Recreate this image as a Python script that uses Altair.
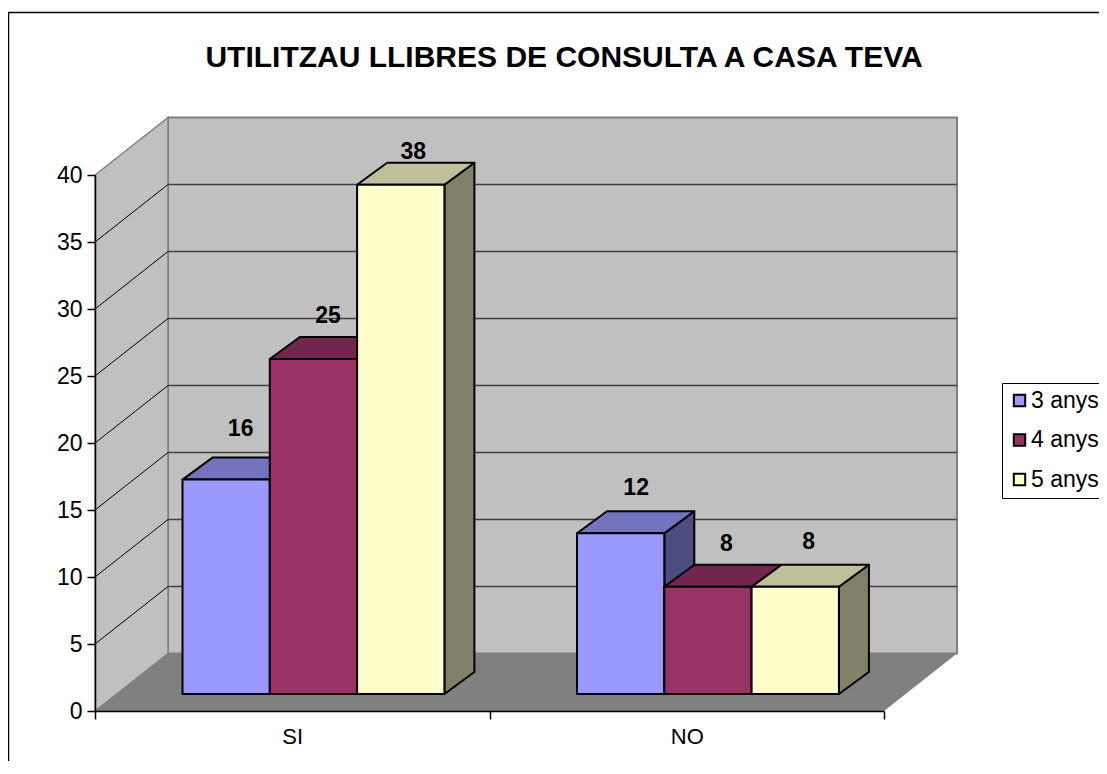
import altair as alt
import pandas as pd

# ---- data ----
categories = ["SI", "NO"]
series = ["3 anys", "4 anys", "5 anys"]
values_3 = [16, 12]
values_4 = [25, 8]
values_5 = [38, 8]
colors_front = ["#9999FF", "#993366", "#FFFFCC"]
colors_top = ["#7373BF", "#73264D", "#BFBF99"]
colors_side = ["#4D4D80", "#4D1A33", "#808066"]
y_ticks = [0, 5, 10, 15, 20, 25, 30, 35, 40]

# label nudges in pixels (bar order: SI 3,4,5 then NO 3,4,5)
label_dx = [[14.5, 14.5, 12.5], [15.5, 18.5, 13.5]]
label_dy = [[-51, -43, -33], [-45, -43, -45]]

# ---- layout ----
FONT = "Liberation Sans"
PX_X = 394.5   # pixels per category
PX_Y = 13.4    # pixels per value unit
WALL_DX = 73 / PX_X
WALL_DY = 57.5 / PX_Y
BAR_X0 = 87.5 / PX_X
BAR_W = 87.3 / PX_X
BAR_BASE = 17 / PX_Y
BAR_DX = 30 / PX_X
BAR_DY = 22 / PX_Y

x_scale = alt.Scale(domain=[0, 2], nice=False, zero=False)
y_scale = alt.Scale(domain=[0, 40], nice=False, zero=False)
X = lambda f="x": alt.X(f"{f}:Q", scale=x_scale, title=None)
Y = lambda f="y": alt.Y(f"{f}:Q", scale=y_scale, title=None)
color_enc = alt.Color(
    "serie:N",
    scale=alt.Scale(domain=series, range=colors_front),
    legend=alt.Legend(
        title=None, orient="none", legendX=907, legendY=208,
        strokeColor="#000000", fillColor="#FFFFFF", padding=6,
        symbolType="square", symbolSize=130, symbolStrokeColor="#000000",
        symbolStrokeWidth=2, labelFont=FONT, labelFontSize=23, labelColor="#000000",
        rowPadding=15.5, labelOffset=0, labelLimit=200, symbolOpacity=1,
    ),
)


def side_poly(xs, ys, y2s, color, **kw):
    df = pd.DataFrame({"x": xs, "y": ys, "y2": y2s})
    return alt.Chart(df).mark_area(fill=color, interpolate="linear", **kw).encode(
        x=X(), y=Y(), y2="y2:Q"
    )


def flat_poly(ys, xs, x2s, color, **kw):
    df = pd.DataFrame({"y": ys, "x": xs, "x2": x2s})
    return alt.Chart(df).mark_area(fill=color, orient="horizontal", interpolate="linear", **kw).encode(
        y=Y(), x=X(), x2="x2:Q"
    )


layers = []

# frame (top and left edges are visible; the rest runs off the picture)
frame_df = pd.DataFrame({"x": [-87 / PX_X + 0.5 / PX_X], "x2": [3.0], "y": [(711 - 12.5) / PX_Y], "y2": [-10.0]})
layers.append(
    alt.Chart(frame_df).mark_rect(fill="#FFFFFF", stroke="#000000", strokeWidth=1.5).encode(
        x=alt.X("x:Q", scale=x_scale, title=None, axis=alt.Axis(
            values=[0, 0.5, 1, 1.5, 2], grid=False, tickSize=8, tickColor="#000000", domainColor="#000000",
            domainWidth=1.5, tickWidth=1.5, labelFont=FONT, labelFontSize=22, labelColor="#000000", labelPadding=7,
            labelAngle=0, zindex=1,
            tickOpacity=alt.expr("datum.value == 0.5 || datum.value == 1.5 ? 0 : 1"),
            labelExpr="datum.value == 0.5 ? 'SI' : datum.value == 1.5 ? 'NO' : ''",
        )),
        x2="x2:Q",
        y=alt.Y("y:Q", scale=y_scale, title=None, axis=alt.Axis(
            values=y_ticks, grid=False, tickSize=8, tickColor="#000000", domainColor="#000000",
            domainWidth=1.5, tickWidth=1.5, labelFont=FONT, labelFontSize=23, labelColor="#000000", labelPadding=5,
            zindex=1,
        )),
        y2="y2:Q",
    )
)

# walls and floor
layers.append(
    alt.Chart(pd.DataFrame({"x": [WALL_DX], "x2": [2 + WALL_DX], "y": [WALL_DY], "y2": [40 + WALL_DY]}))
    .mark_rect(fill="#C0C0C0", stroke="#808080", strokeWidth=2)
    .encode(x=X(), x2="x2:Q", y=Y(), y2="y2:Q")
)
layers.append(side_poly([0, WALL_DX], [0, WALL_DY], [40, 40 + WALL_DY], "#C0C0C0", stroke="#808080", strokeWidth=1.5))
layers.append(flat_poly([0, WALL_DY], [0, WALL_DX], [2, 2 + WALL_DX], "#808080"))

# grid lines on back wall and on left wall
grid_vals = y_ticks[1:-1]
layers.append(
    alt.Chart(pd.DataFrame({"v": [v + WALL_DY for v in grid_vals], "x": [WALL_DX] * len(grid_vals), "x2": [2 + WALL_DX] * len(grid_vals)}))
    .mark_rule(color="#404040", strokeWidth=1.3)
    .encode(x=X(), x2="x2:Q", y=Y("v"))
)
diag = pd.DataFrame(
    [{"g": v, "x": 0, "y": v} for v in grid_vals] + [{"g": v, "x": WALL_DX, "y": v + WALL_DY} for v in grid_vals]
)
layers.append(alt.Chart(diag).mark_line(color="#000000", strokeWidth=1).encode(x=X(), y=Y(), detail="g:N"))

# bars, left to right so that each one hides what lies behind it
all_values = [values_3, values_4, values_5]
labels = []
for c, cat in enumerate(categories):
    for s, name in enumerate(series):
        v = all_values[s][c]
        x0 = c + BAR_X0 + s * BAR_W
        x1 = x0 + BAR_W
        top = v + BAR_BASE
        bar_style = dict(stroke="#000000", strokeWidth=2, strokeJoin="round")
        layers.append(side_poly([x1, x1 + BAR_DX], [BAR_BASE, BAR_BASE + BAR_DY], [top, top + BAR_DY], colors_side[s], **bar_style))
        layers.append(flat_poly([top, top + BAR_DY], [x0, x0 + BAR_DX], [x1, x1 + BAR_DX], colors_top[s], **bar_style))
        layers.append(
            alt.Chart(pd.DataFrame({"serie": [name], "x": [x0], "x2": [x1], "y": [BAR_BASE], "y2": [top]}))
            .mark_rect(**bar_style)
            .encode(x=X(), x2="x2:Q", y=Y(), y2="y2:Q", color=color_enc)
        )
        labels.append(
            alt.Chart(pd.DataFrame({"x": [(x0 + x1) / 2], "y": [top], "t": [str(v)]}))
            .mark_text(font=FONT, fontSize=23, fontWeight="bold", color="#000000",
                       dx=label_dx[c][s], dy=label_dy[c][s], baseline="middle", align="center")
            .encode(x=X(), y=Y(), text="t:N")
        )

chart = (
    alt.layer(*layers, *labels)
    .properties(
        width=789,
        height=536,
        padding={"left": 87, "top": 167, "right": 215, "bottom": 50},
        autosize=alt.AutoSizeParams(type="none"),
        background="#FFFFFF",
        title=alt.TitleParams(
            "UTILITZAU LLIBRES DE CONSULTA A CASA TEVA",
            font=FONT, fontSize=30, fontWeight="bold", color="#000000",
            anchor="middle", dx=74.5, offset=-61,
        ),
    )
    .configure_view(stroke=None)
)

chart.save("out.html", embed_options={"renderer": "svg", "actions": False})
